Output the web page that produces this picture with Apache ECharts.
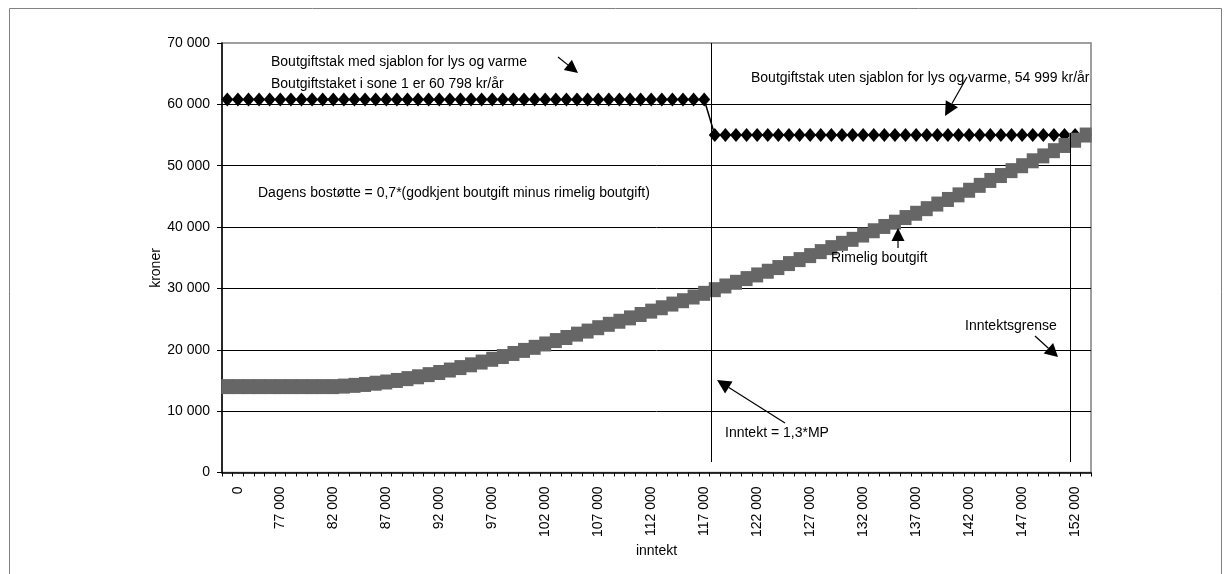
<!DOCTYPE html>
<html>
<head>
<meta charset="utf-8">
<script src="https://cdn.jsdelivr.net/npm/echarts@6/dist/echarts.min.js"></script>
<style>
html,body{margin:0;padding:0;background:#fff;}
#c{width:1230px;height:574px;}
</style>
</head>
<body>
<div id="c"></div>
<script>
// Tick labels shown on the category axis and the category index where each appears
const tickLabels = ['0','77 000','82 000','87 000','92 000','97 000','102 000','107 000','112 000','117 000','122 000','127 000','132 000','137 000','142 000','147 000','152 000'];
const tickLabelPos = [1,5,10,15,20,25,30,35,40,45,50,55,60,65,70,75,80];

// Boutgiftstak (diamonds)
const boutgiftstak = [
  60798,60798,60798,60798,60798,60798,60798,60798,60798,60798,
  60798,60798,60798,60798,60798,60798,60798,60798,60798,60798,
  60798,60798,60798,60798,60798,60798,60798,60798,60798,60798,
  60798,60798,60798,60798,60798,60798,60798,60798,60798,60798,
  60798,60798,60798,60798,60798,60798,
  54999,54999,54999,54999,54999,54999,54999,54999,54999,54999,
  54999,54999,54999,54999,54999,54999,54999,54999,54999,54999,
  54999,54999,54999,54999,54999,54999,54999,54999,54999,54999,
  54999,54999,54999,54999,54999,54999
];

// Rimelig boutgift (grey squares)
const rimeligBoutgift = [
  14000,14000,14000,14000,14000,14000,14000,14000,14000,14000,
  14000,14080,14200,14350,14550,14750,15000,15300,15600,15950,
  16300,16700,17100,17550,18000,18450,18900,19400,19900,20400,
  20950,21500,22000,22550,23050,23600,24150,24650,25200,25750,
  26300,26850,27450,28000,28600,29200,29800,30400,31000,31600,
  32200,32800,33400,34050,34700,35350,36000,36650,37350,38000,
  38700,39400,40100,40800,41550,42250,43000,43750,44500,45250,
  46000,46800,47600,48400,49200,50000,50800,51600,52450,53300,
  54150,55000
];

const categories = rimeligBoutgift.map((_, i) => String(i));

const FONT = '"Liberation Sans", Arial, sans-serif';

function fmtNum(v){
  if (v === 0) return '0';
  const s = String(v);
  return s.slice(0, s.length-3) + ' ' + s.slice(s.length-3);
}

function arrow(x1, y1, x2, y2, headLen, headW){
  const dx = x2 - x1, dy = y2 - y1;
  const L = Math.sqrt(dx*dx + dy*dy);
  const ux = dx / L, uy = dy / L;
  const px = -uy, py = ux;
  const bx = x2 - ux*headLen, by = y2 - uy*headLen;
  return [
    {type:'line', shape:{x1:x1, y1:y1, x2:bx, y2:by}, style:{stroke:'#000', lineWidth:1.2}, z:10},
    {type:'polygon', shape:{points:[[x2,y2],[bx+px*headW/2, by+py*headW/2],[bx-px*headW/2, by-py*headW/2]]}, style:{fill:'#000'}, z:10}
  ];
}

function txt(s, x, y, opts){
  const o = opts || {};
  return {type:'text', x:x, y:y, z:10, rotation: o.rotation || 0,
    style:{text:s, fill:'#000', font:'14px ' + FONT,
      textAlign:o.align || 'left', textVerticalAlign:'middle', align:o.align || 'left', verticalAlign:'middle'}};
}

const chart = echarts.init(document.getElementById('c'), null, {renderer:'canvas'});

const graphics = [
  {type:'rect', shape:{x:9.5, y:8.5, width:1212, height:600}, style:{fill:'none', stroke:'#808080', lineWidth:1}, z:0, silent:true},
  {type:'line', shape:{x1:711.5, y1:43, x2:711.5, y2:462}, style:{stroke:'#000', lineWidth:1}, z:10},
  {type:'line', shape:{x1:1070.5, y1:133, x2:1070.5, y2:462}, style:{stroke:'#000', lineWidth:1}, z:10},
  txt('Boutgiftstak med sjablon for lys og varme', 271, 62),
  txt('Boutgiftstaket i sone 1 er 60 798 kr/år', 271, 84),
  txt('Boutgiftstak uten sjablon for lys og varme, 54 999 kr/år', 751, 78),
  txt('Dagens bostøtte = 0,7*(godkjent boutgift minus rimelig boutgift)', 258, 193),
  txt('Rimelig boutgift', 831, 258),
  txt('Inntektsgrense', 965, 326),
  txt('Inntekt = 1,3*MP', 725, 433),
  txt('kroner', 156, 268, {rotation: Math.PI/2, align: 'center'})
].concat(
  arrow(558, 57, 578, 73, 13, 13),
  arrow(967, 77, 945, 116, 14, 14),
  arrow(898, 248, 898, 228, 13, 13),
  arrow(1035, 336, 1058, 357, 13, 14),
  arrow(785, 423, 717, 380, 14, 14)
);

chart.setOption({
  animation: false,
  backgroundColor: '#fff',
  textStyle: {fontFamily: FONT, color: '#000'},
  grid: {left: 222, right: 139, top: 43, bottom: 101.5, show: true, borderColor: '#808080', borderWidth: 1.5, backgroundColor: 'transparent'},
  xAxis: {
    type: 'category',
    data: categories,
    boundaryGap: true,
    name: 'inntekt',
    nameLocation: 'middle',
    nameGap: 72,
    nameMoveOverlap: false,
    nameTextStyle: {fontSize: 14, color: '#000', fontFamily: FONT},
    axisLine: {show: true, lineStyle: {color: '#000', width: 1.5}},
    axisTick: {show: true, interval: 0, length: 4, lineStyle: {color: '#000', width: 1}},
    axisLabel: {
      interval: 0, rotate: 90, margin: 14, fontSize: 14, color: '#000', fontFamily: FONT,
      formatter: function(v, i){ const k = tickLabelPos.indexOf(i); return k >= 0 ? tickLabels[k] : ''; }
    },
    splitLine: {show: false}
  },
  yAxis: {
    type: 'value',
    min: 0, max: 70000, interval: 10000,
    axisLine: {show: true, lineStyle: {color: '#000', width: 1.5}},
    axisTick: {show: true, length: 5, lineStyle: {color: '#000', width: 1}},
    axisLabel: {margin: 12, fontSize: 14, color: '#000', fontFamily: FONT, formatter: fmtNum},
    splitLine: {show: true, showMinLine: false, showMaxLine: false, lineStyle: {color: '#000', width: 1}}
  },
  graphic: graphics,
  series: [
    {
      name: 'Boutgiftstak',
      type: 'line',
      data: boutgiftstak,
      symbol: 'diamond',
      symbolSize: [12, 14],
      showAllSymbol: true,
      itemStyle: {color: '#000'},
      lineStyle: {color: '#000', width: 1.5},
      z: 3
    },
    {
      name: 'Rimelig boutgift',
      type: 'line',
      data: rimeligBoutgift,
      symbol: 'rect',
      symbolSize: [12, 15],
      showAllSymbol: true,
      itemStyle: {color: '#666666'},
      lineStyle: {color: '#666666', width: 2},
      z: 4
    }
  ]
});
</script>
</body>
</html>
